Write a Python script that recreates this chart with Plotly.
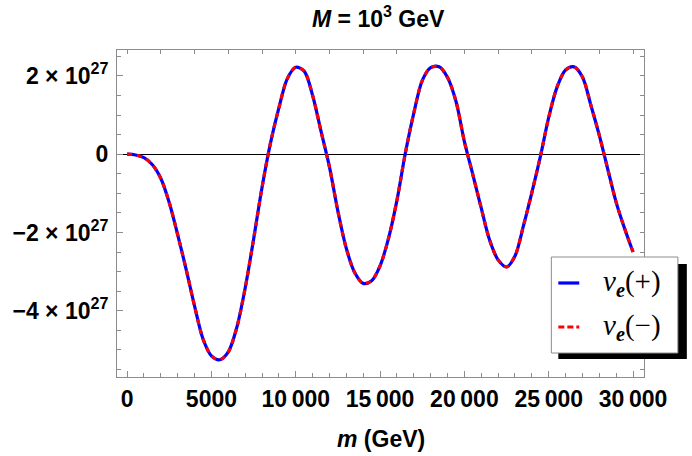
import plotly.graph_objects as go

# ---- data ----
m_gev = [0, 500, 1000, 1500, 2000, 2500, 3000, 3500, 4000, 4500,
         5000, 5500, 6000, 6500, 7000, 7500, 8000, 8500, 9000, 9500,
         10000, 10500, 11000, 11500, 12000, 12500, 13000, 13500, 14000, 14500,
         15000, 15500, 16000, 16500, 17000, 17500, 18000, 18500, 19000, 19500,
         20000, 20500, 21000, 21500, 22000, 22500, 23000, 23500, 24000, 24500,
         25000, 25500, 26000, 26500, 27000, 27500, 28000, 28500, 29000, 29500,
         30000]
v_e27 = [0.0, -0.02, -0.09, -0.27, -0.62, -1.24, -2.06, -2.94, -3.88, -4.72,
         -5.15, -5.25, -5.05, -4.43, -3.42, -2.17, -0.85, 0.28, 1.18, 1.93,
         2.22, 2.12, 1.50, 0.58, -0.33, -1.46, -2.41, -3.03, -3.30, -3.23,
         -2.85, -2.15, -1.18, 0.03, 1.05, 1.88, 2.21, 2.23, 1.96, 1.35,
         0.32, -0.52, -1.38, -2.20, -2.70, -2.88, -2.60, -1.83, -0.98, -0.07,
         0.94, 1.72, 2.15, 2.23, 1.97, 1.25, 0.48, -0.38, -1.23, -1.90,
         -2.50]
nu_plus = [v * 1e27 for v in v_e27]
nu_minus = [v * 1e27 for v in v_e27]

x_tickvals = [0, 5000, 10000, 15000, 20000, 25000, 30000]
x_ticktext = ["0", "5000", "10\u2009000", "15\u2009000", "20\u2009000", "25\u2009000", "30\u2009000"]
y_tickvals = [2e27, 0, -2e27, -4e27]
y_ticktext = ["2 \u00d7 10<sup>27</sup>", "0", "\u22122 \u00d7 10<sup>27</sup>", "\u22124 \u00d7 10<sup>27</sup>"]
legend_labels = ["<i>\u03bd</i><sub><b><i>e</i></b></sub>(+)", "<i>\u03bd</i><sub><b><i>e</i></b></sub>(\u2212)"]

# ---- layout geometry ----
W, H = 692, 456
L, R, T, B = 115, 644, 50, 377
XR = [-600, 30650]
YR = [-5.69e27, 2.66e27]

def px(xp):
    return (xp - L) / (R - L)

def py(yp):
    return (B - yp) / (B - T)

FRAME = "#8c8c8c"
FONT = "Liberation Sans"

fig = go.Figure()
fig.add_trace(go.Scatter(x=m_gev, y=nu_plus, mode="lines",
                         line=dict(color="#0000ff", width=3.2, shape="spline", smoothing=0.9),
                         showlegend=False))
fig.add_trace(go.Scatter(x=m_gev, y=nu_minus, mode="lines",
                         line=dict(color="#ff0000", width=3.2, shape="spline", smoothing=0.9,
                                   dash="5px,5px"),
                         showlegend=False))

axis_common = dict(showgrid=False, showline=True, linecolor=FRAME, linewidth=1,
                   ticks="inside", tickcolor=FRAME)

fig.update_layout(
    width=W, height=H,
    margin=dict(l=L, r=W - R, t=T, b=H - B),
    paper_bgcolor="white", plot_bgcolor="white",
    showlegend=False,
    xaxis=dict(range=XR, tickvals=x_tickvals, ticktext=x_ticktext, ticklen=6,
               tickfont=dict(family=FONT, size=23, color="black", weight="bold"),
               minor=dict(dtick=1000, tick0=0, ticks="inside", ticklen=4, tickcolor=FRAME),
               zeroline=False, ticklabelstandoff=1, **axis_common),
    yaxis=dict(range=YR, tickvals=y_tickvals, ticktext=y_ticktext, ticklen=6,
               tickfont=dict(family=FONT, size=23, color="black", weight="bold"),
               minor=dict(dtick=0.5e27, tick0=0, ticks="inside", ticklen=4, tickcolor=FRAME),
               zeroline=True, zerolinecolor="black", zerolinewidth=1,
               ticklabelstandoff=3, **axis_common),
    xaxis2=dict(range=XR, overlaying="x", side="top", dtick=2000, tick0=0,
                showticklabels=False, ticklen=4, zeroline=False, **axis_common),
    yaxis2=dict(range=YR, overlaying="y", side="right", dtick=0.5e27, tick0=0,
                showticklabels=False, ticklen=4, zeroline=False, **axis_common),
)
# invisible trace to activate the frame axes on top and right
fig.add_trace(go.Scatter(x=[None], y=[None], xaxis="x2", yaxis="y2", showlegend=False, hoverinfo="skip"))

# titles
fig.add_annotation(text="<b><i>M</i> = 10<sup>3</sup> GeV</b>", xref="paper", yref="paper",
                   x=px(377), y=py(17), xanchor="center", yanchor="middle", showarrow=False,
                   font=dict(family=FONT, size=23, color="black"))
fig.add_annotation(text="<b><i>m</i> (GeV)</b>", xref="paper", yref="paper",
                   x=px(380), y=py(439), xanchor="center", yanchor="middle", showarrow=False,
                   font=dict(family=FONT, size=23, color="black"))

# legend (drawn by hand: shadow, box, samples, labels)
fig.add_shape(type="rect", xref="paper", yref="paper", x0=px(558), x1=px(687), y0=py(359), y1=py(264),
              fillcolor="black", line=dict(width=0), layer="above")
fig.add_shape(type="rect", xref="paper", yref="paper", x0=px(551), x1=px(678), y0=py(353), y1=py(257),
              fillcolor="white", line=dict(color=FRAME, width=1), layer="above")
fig.add_shape(type="line", xref="paper", yref="paper", x0=px(558), x1=px(579), y0=py(283), y1=py(283),
              line=dict(color="#0000ff", width=3.2), layer="above")
fig.add_shape(type="line", xref="paper", yref="paper", x0=px(558), x1=px(579), y0=py(327), y1=py(327),
              line=dict(color="#ff0000", width=3.2, dash="6px,3px"), layer="above")
for lbl, yc in zip(legend_labels, [283, 327]):
    fig.add_annotation(text=lbl, xref="paper", yref="paper", x=px(601), y=py(yc),
                       xanchor="left", yanchor="middle", showarrow=False,
                       font=dict(family="Liberation Serif", size=29, color="black"))

fig.write_html("out.html")
